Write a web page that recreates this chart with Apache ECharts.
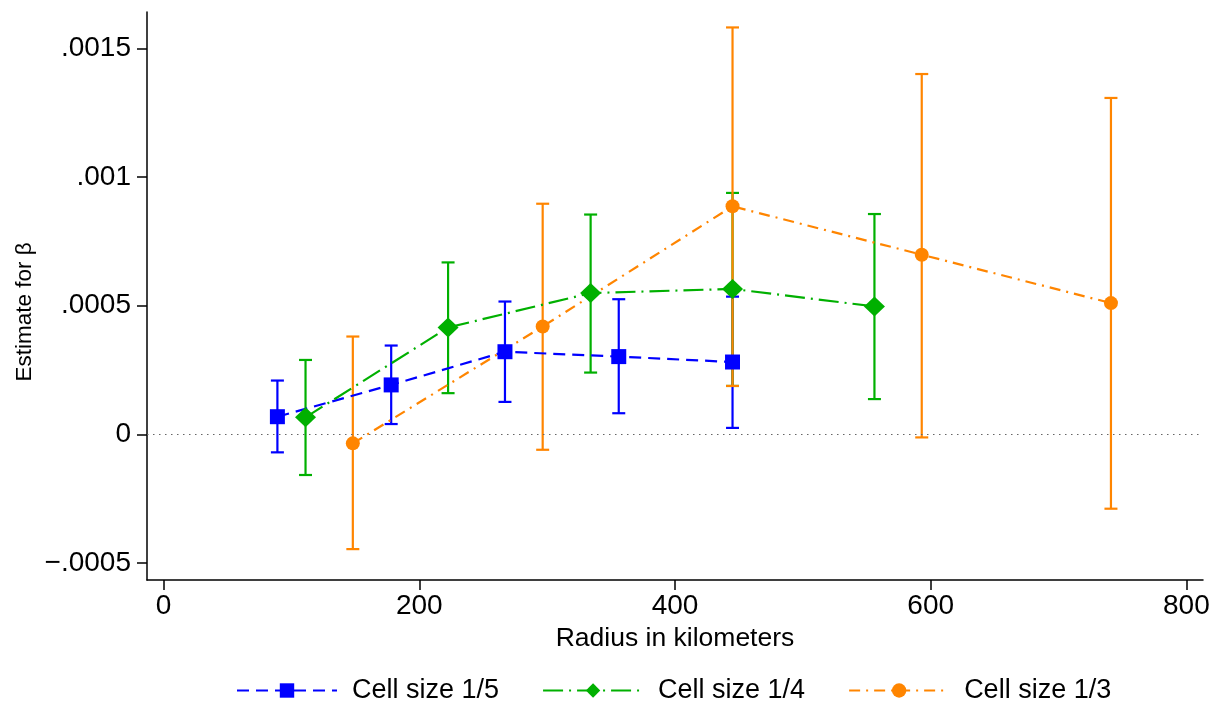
<!DOCTYPE html>
<html>
<head>
<meta charset="utf-8">
<script src="https://cdn.jsdelivr.net/npm/echarts@6/dist/echarts.min.js"></script>
<style>
  html, body { margin: 0; padding: 0; background: #fff; }
  #chart { width: 1209px; height: 704px; }
</style>
</head>
<body>
<div id="chart"></div>
<script>
// radius (km), point estimate, lower / upper bound of the CI
const radius15 = [89, 178, 267, 356, 445];
const est15 = [0.0000685, 0.000192, 0.000321, 0.000302, 0.000281];
const lo15 = [-0.00007, 0.00004, 0.000126, 0.000082, 0.000025];
const hi15 = [0.000209, 0.000345, 0.000516, 0.000525, 0.000535];

const radius14 = [111, 222.5, 334, 445, 556];
const est14 = [0.000066, 0.000415, 0.000549, 0.000565, 0.000497];
const lo14 = [-0.000158, 0.00016, 0.00024, 0.000188, 0.000137];
const hi14 = [0.000289, 0.000668, 0.000854, 0.000938, 0.000856];

const radius13 = [148, 296.5, 445, 593, 741];
const est13 = [-0.000035, 0.000419, 0.000886, 0.000698, 0.00051];
const lo13 = [-0.000446, -0.00006, 0.000188, -0.000012, -0.000289];
const hi13 = [0.00038, 0.000896, 0.001581, 0.0014, 0.001307];

const xTicks = [0, 200, 400, 600, 800];
const yTicks = [-0.0005, 0, 0.0005, 0.001, 0.0015];

const names = ['Cell size 1/5', 'Cell size 1/4', 'Cell size 1/3'];
const colors = ['#0000ff', '#00b000', '#ff8500'];

const FONT = 'Liberation Sans';

function zip(xs, ys) {
    return xs.map((x, i) => [x, ys[i]]);
}
function zip3(xs, a, b) {
    return xs.map((x, i) => [x, a[i], b[i]]);
}

function yFmt(v) {
    if (Math.abs(v) < 1e-12) return '0';
    let s = String(Math.abs(v)).replace(/^0/, '');
    return (v < 0 ? '\u2212' : '') + s;
}

// vertical line with caps
function capRenderer(color) {
    return function (params, api) {
        const x = api.value(0);
        const p1 = api.coord([x, api.value(1)]);
        const p2 = api.coord([x, api.value(2)]);
        const half = 6.5;
        const style = { stroke: color, lineWidth: 2.2 };
        return {
            type: 'group',
            children: [
                { type: 'line', shape: { x1: p1[0], y1: p1[1], x2: p2[0], y2: p2[1] }, style: style },
                { type: 'line', shape: { x1: p1[0] - half, y1: p1[1], x2: p1[0] + half, y2: p1[1] }, style: style },
                { type: 'line', shape: { x1: p2[0] - half, y1: p2[1], x2: p2[0] + half, y2: p2[1] }, style: style }
            ]
        };
    };
}

function barSeries(name, color, data) {
    return {
        name: name + ' CI',
        type: 'custom',
        renderItem: capRenderer(color),
        encode: { x: 0, y: [1, 2] },
        data: data,
        silent: true
    };
}

function lineSeries(name, color, data, symbol, size, dash) {
    return {
        name: name,
        type: 'line',
        data: data,
        symbol: symbol,
        symbolSize: size,
        showSymbol: true,
        itemStyle: { color: color },
        lineStyle: { color: color, width: 2.2, type: dash }
    };
}

const chart = echarts.init(document.getElementById('chart'));

const option = {
    animation: false,
    backgroundColor: '#fff',
    grid: {
        left: 147, top: 12, width: 1056, height: 568,
        containLabel: false,
        outerBoundsMode: 'none'
    },
    graphic: [{
        type: 'text',
        x: 25,
        y: 312,
        rotation: Math.PI / 2,
        style: {
            text: 'Estimate for \u03b2',
            fontFamily: FONT,
            fontSize: 22.5,
            fill: '#000',
            align: 'center',
            verticalAlign: 'middle'
        }
    }],
    legend: {
        data: names,
        bottom: 0,
        padding: 0,
        left: 236,
        itemWidth: 100,
        itemHeight: 18,
        itemGap: 43,
        selectedMode: false,
        textStyle: { fontFamily: FONT, fontSize: 27, color: '#000', padding: [0, 0, 0, 10] }
    },
    xAxis: {
        type: 'value',
        min: -13,
        max: 813,
        name: 'Radius in kilometers',
        nameLocation: 'middle',
        nameGap: 38,
        nameTextStyle: { fontFamily: FONT, fontSize: 26.5, color: '#000' },
        splitLine: { show: false },
        axisLine: { show: true, onZero: false, lineStyle: { color: '#000', width: 1.5 } },
        axisTick: { show: true, customValues: xTicks, length: 10, lineStyle: { color: '#000', width: 1.5 } },
        axisLabel: { customValues: xTicks, margin: 12, fontFamily: FONT, fontSize: 28, color: '#000' }
    },
    yAxis: {
        type: 'value',
        min: -0.000566,
        max: 0.001641,
        splitLine: { show: false },
        axisLine: { show: true, onZero: false, lineStyle: { color: '#000', width: 1.5 } },
        axisTick: { show: true, customValues: yTicks, length: 10, lineStyle: { color: '#000', width: 1.5 } },
        axisLabel: { customValues: yTicks, margin: 16, formatter: yFmt, fontFamily: FONT, fontSize: 28, color: '#000' }
    },
    series: [
        {
            name: 'zero',
            type: 'line',
            data: [],
            markLine: {
                silent: true,
                symbol: ['none', 'none'],
                label: { show: false },
                lineStyle: { color: '#666', width: 1, type: [1.5, 4.5] },
                data: [{ yAxis: 0 }]
            }
        },
        barSeries(names[0], colors[0], zip3(radius15, lo15, hi15)),
        lineSeries(names[0], colors[0], zip(radius15, est15), 'rect', 15, [12, 7]),
        barSeries(names[1], colors[1], zip3(radius14, lo14, hi14)),
        lineSeries(names[1], colors[1], zip(radius14, est14), 'diamond', [21, 20], [20, 6, 2, 6]),
        barSeries(names[2], colors[2], zip3(radius13, lo13, hi13)),
        lineSeries(names[2], colors[2], zip(radius13, est13), 'circle', 14, [11, 6, 2, 6])
    ]
};

chart.setOption(option);
</script>
</body>
</html>
